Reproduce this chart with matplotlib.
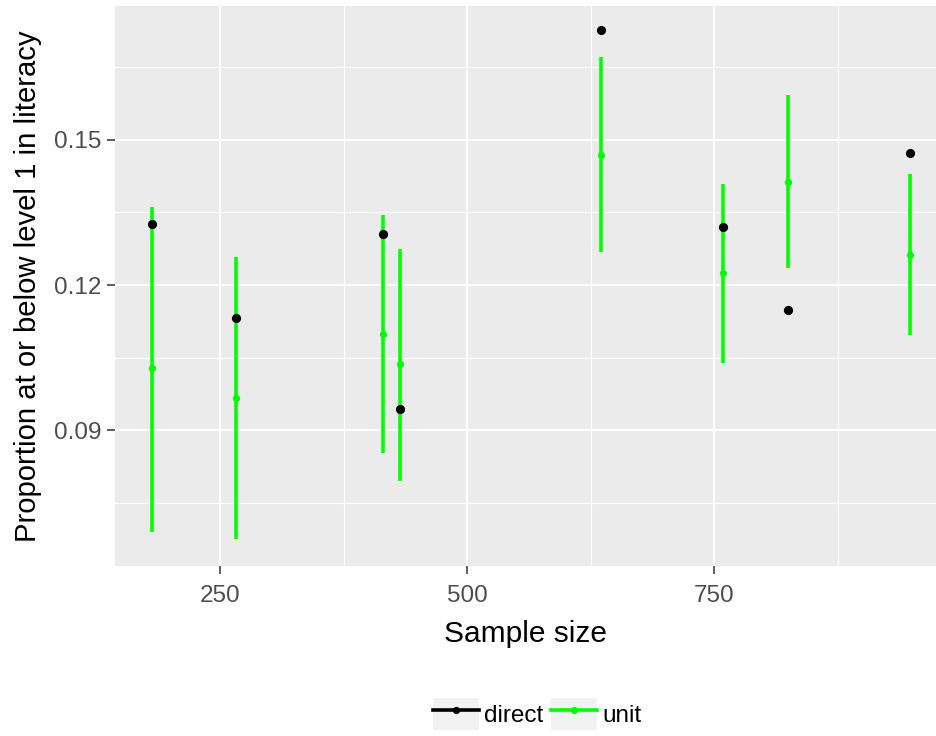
import matplotlib
matplotlib.use("Agg")
import matplotlib.pyplot as plt
from matplotlib.lines import Line2D
from matplotlib.patches import Patch
from matplotlib.ticker import FixedLocator

plt.rcParams['font.family'] = ['Liberation Sans', 'DejaVu Sans']

# estimates per area, direct vs unit-level model
sample_size = [181, 266, 415, 432, 635, 759, 825, 948]
direct = [0.1326, 0.1132, 0.1305, 0.0944, 0.1727, 0.1321, 0.1149, 0.1472]
unit = [0.1028, 0.0966, 0.1099, 0.1037, 0.1468, 0.1224, 0.1413, 0.1262]
unit_lo = [0.0690, 0.0674, 0.0853, 0.0795, 0.1268, 0.1038, 0.1235, 0.1097]
unit_hi = [0.1362, 0.1259, 0.1345, 0.1274, 0.1671, 0.1408, 0.1592, 0.1429]

x_major = [250, 500, 750]
x_minor = [375, 625, 875]
y_major = [0.09, 0.12, 0.15]
y_minor = [0.075, 0.105, 0.135, 0.165]

GREEN = '#00FF00'

fig = plt.figure(figsize=(9.36, 7.36), dpi=100)
ax = fig.add_axes([115 / 936, 170 / 736, 821 / 936, 560 / 736])
ax.set_facecolor('#EBEBEB')
for s in ax.spines.values():
    s.set_visible(False)

ax.vlines(sample_size, unit_lo, unit_hi, color=GREEN, lw=2.6, zorder=3)
ax.plot(sample_size, unit, 'o', color=GREEN, ms=4.2, zorder=4)
ax.plot(sample_size, direct, 'o', color='black', ms=5.6, zorder=5)

ax.set_xlim(143.5, 974.5)
ax.set_ylim(0.0619, 0.1777)
ax.set_xticks(x_major)
ax.set_yticks(y_major)
ax.set_yticklabels([f'{v:.2f}' for v in y_major])
ax.xaxis.set_minor_locator(FixedLocator(x_minor))
ax.yaxis.set_minor_locator(FixedLocator(y_minor))
ax.grid(which='major', color='white', lw=1.4)
ax.grid(which='minor', color='white', lw=0.8)
ax.set_axisbelow(True)
ax.tick_params(which='major', length=6, width=1.1, color='#333333',
               labelcolor='#4D4D4D', labelsize=17.5, pad=4)
ax.tick_params(axis='x', which='major', pad=7.5)
ax.tick_params(which='minor', length=0)

ax.set_xlabel('Sample size', fontsize=21.5, labelpad=9.5)
ax.set_ylabel('Proportion at or below level 1 in literacy', fontsize=21.1, labelpad=8)

key_bg = '#F2F2F2'
handles = [
    (Patch(facecolor=key_bg, edgecolor='none'),
     Line2D([], [], color='black', lw=2.6, marker='o', ms=4.2)),
    (Patch(facecolor=key_bg, edgecolor='none'),
     Line2D([], [], color=GREEN, lw=2.6, marker='o', ms=4.2)),
]
fig.legend(handles, ['direct', 'unit'], loc='center', ncol=2,
           bbox_to_anchor=(537 / 936, 1 - 714 / 736), frameon=False,
           fontsize=17.5, handlelength=1.9, handleheight=1.7,
           handletextpad=0.2, columnspacing=0.35, borderpad=0,
           numpoints=1)

fig.savefig('out.png', dpi=100)
